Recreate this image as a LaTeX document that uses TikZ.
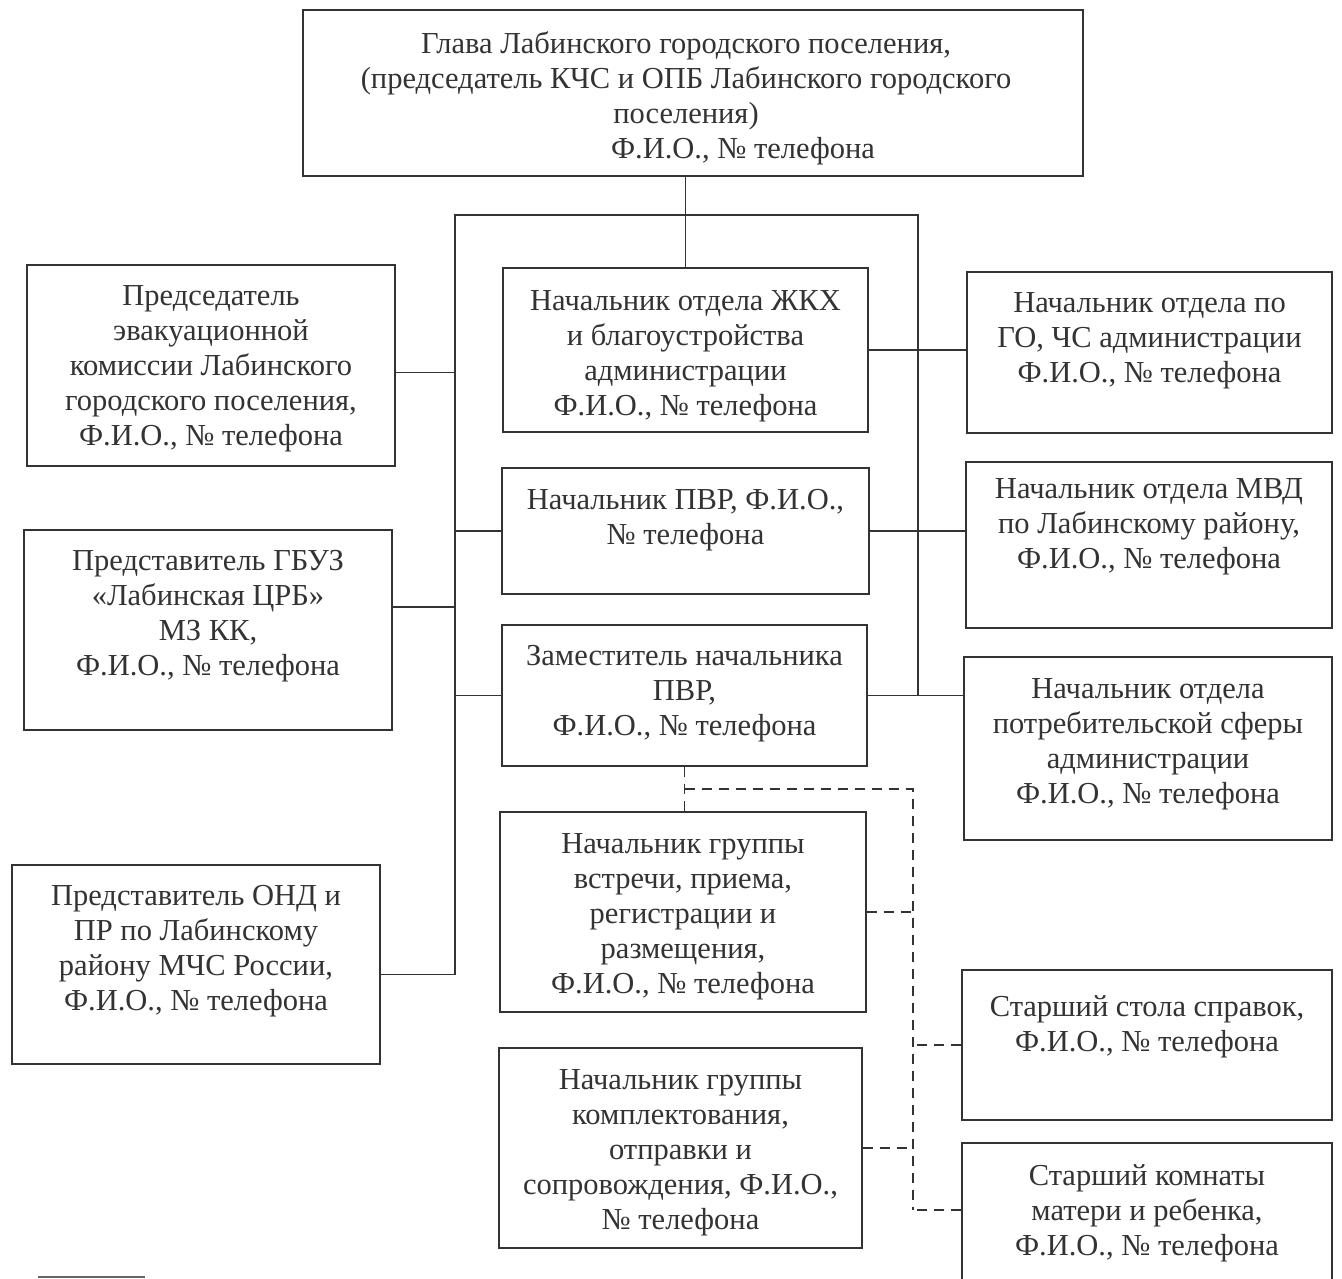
\documentclass[tikz,border=0pt]{standalone}
\usepackage{fontspec}
\setmainfont{Liberation Serif}
\begin{document}
\begin{tikzpicture}[x=1pt, y=-1pt,
    unit/.style={draw=black!80, line width=1.5pt, inner sep=0pt},
    txt/.style={align=center, inner sep=0pt, yshift=-3pt, text=black!80, font=\fontsize{30.5}{35}\selectfont},
    link/.style={draw=black!80, line width=1.5pt},
    dlink/.style={link, dash pattern=on 10pt off 7pt}]

    % Page frame
    \fill[white] (0,0) rectangle (1342,1278);
    \useasboundingbox (0,0) rectangle (1342,1278);

    % Head of the settlement
    \node[unit, minimum width=780pt, minimum height=166pt] (head) at (693,93) {};
    \node[txt] (headt) at (686,95) {Глава Лабинского городского поселения,\\(председатель КЧС и ОПБ Лабинского городского\\поселения)\\\hspace*{114pt}Ф.И.О., № телефона};

    % Left column
    \node[unit, minimum width=368pt, minimum height=201pt] (l1) at (211,365.5) {};
    \node[txt] (l1t) at (211,366) {Председатель\\эвакуационной\\комиссии Лабинского\\городского поселения,\\Ф.И.О., № телефона};
    \node[unit, minimum width=368pt, minimum height=200pt] (l2) at (208,630) {};
    \node[txt] (l2t) at (208,613.5) {Представитель ГБУЗ\\«Лабинская ЦРБ»\\МЗ КК,\\Ф.И.О., № телефона};
    \node[unit, minimum width=368pt, minimum height=199pt] (l3) at (196,964.5) {};
    \node[txt] (l3t) at (196,948) {Представитель ОНД и\\ПР по Лабинскому\\району МЧС России,\\Ф.И.О., № телефона};

    % Middle column
    \node[unit, minimum width=365pt, minimum height=164pt] (m1) at (685.5,350) {};
    \node[txt] (m1t) at (685.5,353) {Начальник отдела ЖКХ\\и благоустройства\\администрации\\Ф.И.О., № телефона};
    \node[unit, minimum width=367pt, minimum height=126pt] (m2) at (685.5,531) {};
    \node[txt] (m2t) at (685.5,517.5) {Начальник ПВР, Ф.И.О.,\\№ телефона};
    \node[unit, minimum width=365pt, minimum height=141pt] (m3) at (684.5,695.5) {};
    \node[txt] (m3t) at (684.5,691) {Заместитель начальника\\ПВР,\\Ф.И.О., № телефона};
    \node[unit, minimum width=366pt, minimum height=200pt] (m4) at (683,912) {};
    \node[txt] (m4t) at (683,913.5) {Начальник группы\\встречи, приема,\\регистрации и\\размещения,\\Ф.И.О., № телефона};
    \node[unit, minimum width=363pt, minimum height=200pt] (m5) at (680.5,1148) {};
    \node[txt] (m5t) at (680.5,1149.5) {Начальник группы\\комплектования,\\отправки и\\сопровождения, Ф.И.О.,\\№ телефона};

    % Right column
    \node[unit, minimum width=365pt, minimum height=161pt] (r1) at (1149.5,352.5) {};
    \node[txt] (r1t) at (1149.5,338) {Начальник отдела по\\ГО, ЧС администрации\\Ф.И.О., № телефона};
    \node[unit, minimum width=366pt, minimum height=166pt] (r2) at (1149,545) {};
    \node[txt] (r2t) at (1149,523.5) {Начальник отдела МВД\\по Лабинскому району,\\Ф.И.О., № телефона};
    \node[unit, minimum width=368pt, minimum height=183pt] (r3) at (1148,748.5) {};
    \node[txt] (r3t) at (1148,741.5) {Начальник отдела\\потребительской сферы\\администрации\\Ф.И.О., № телефона};
    \node[unit, minimum width=370pt, minimum height=150pt] (r4) at (1147,1045) {};
    \node[txt] (r4t) at (1147,1023.5) {Старший стола справок,\\Ф.И.О., № телефона};
    \node[unit, minimum width=370pt, minimum height=160pt] (r5) at (1147,1223) {};
    \node[txt] (r5t) at (1147,1210) {Старший комнаты\\матери и ребенка,\\Ф.И.О., № телефона};

    % Bus lines
    \coordinate (busl) at (455,215);
    \coordinate (busr) at (918,215);
    \coordinate (dbus) at (913,789);
    \coordinate (r5in) at ([yshift=13pt]r5.west);

    % Solid links
    \draw[link] (m1.north) -- (m1.north |- head.south);
    \draw[link] ([yshift=-10pt]l3.east) -| (busl) -- (busr) |- (m3.east);
    \draw[link] (m1.east) -- (m1.east -| r1.west);
    \draw[link] (m2.east) -- (m2.east -| r2.west);
    \draw[link] (m3.east) -- (m3.east -| r3.west);
    \draw[link] (m2.west) -- (m2.west -| busl);
    \draw[link] (m3.west) -- (m3.west -| busl);
    \draw[link] ([yshift=-7pt]l1.east) -- ([yshift=-7pt]l1.east -| busl);
    \draw[link] ([yshift=23pt]l2.east) -- ([yshift=23pt]l2.east -| busl);

    % Dashed links
    \draw[dlink] (m3.south) -- (m3.south |- m4.north);
    \draw[dlink] (m3.south |- dbus) -- (dbus) -- (dbus |- r5in);
    \draw[dlink] (r5in) -- (r5in -| dbus);
    \draw[dlink] (m4.east) -- (m4.east -| dbus);
    \draw[dlink] (m5.east) -- (m5.east -| dbus);
    \draw[dlink] (r4.west) -- (r4.west -| dbus);

    % Footnote rule
    \draw[link, black!60] (38,1277) -- (145,1277);
\end{tikzpicture}
\end{document}
